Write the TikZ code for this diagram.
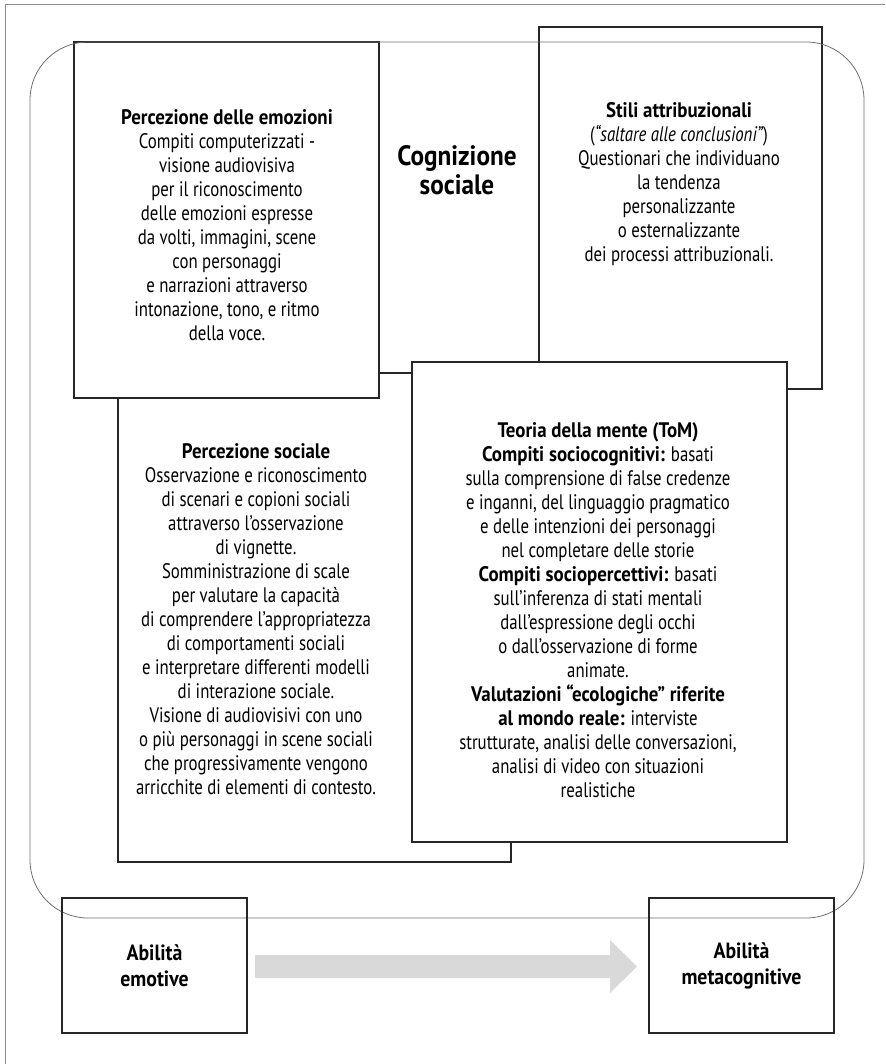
\documentclass[tikz,border=0pt]{standalone}
\usepackage{fontspec}
\setmainfont{PT Sans}[FakeStretch=0.8, BoldFeatures={FakeStretch=0.9}]
\usetikzlibrary{calc}
\definecolor{boxline}{HTML}{262626}
\definecolor{roundline}{HTML}{6E6E6E}
\definecolor{frameline}{HTML}{8C8C8C}
\definecolor{arrowfill}{HTML}{D9D9D9}
\tikzset{
  box/.style={draw=boxline, line width=1.3pt, inner sep=0pt, outer sep=0pt},
  txt/.style={font=\fontsize{21}{24}\selectfont, align=center, inner sep=0pt},
  abtxt/.style={font=\fontsize{22}{26}\selectfont\bfseries, align=center, inner sep=0pt},
  titletxt/.style={font=\fontsize{28}{29}\selectfont\bfseries, align=center, inner sep=0pt},
}
\begin{document}
\begin{tikzpicture}[x=1pt, y=-1pt]
\useasboundingbox (0,0) rectangle (885,1064);
% outer frame (only top and left edges visible)
\coordinate (fTR) at (885,4);
\coordinate (fTL) at (5,4);
\coordinate (fBL) at (5,1064);
\draw[frameline, line width=0.9pt] (fTR) -- (fTL) -- (fBL);
% boxes
\node[box, minimum width=283, minimum height=362] (stili) at (680.5,208) {};
\node[box, fill=white, minimum width=393, minimum height=489] (psoc) at (314.5,617.5) {};
\node[box, fill=white, minimum width=305, minimum height=356] (pemo) at (226.5,220) {};
\node[box, fill=white, minimum width=375, minimum height=480] (tom) at (599.5,602) {};
% rounded frame
\node[draw=roundline, line width=0.8pt, rounded corners=58pt, minimum width=834, minimum height=876, inner sep=0pt] (cogn) at (447,480) {};
% bottom boxes
\node[box, minimum width=185, minimum height=135] (abemo) at (154.5,965.5) {};
\node[box, minimum width=185, minimum height=135] (abmeta) at (741.5,965.5) {};
% arrow
\coordinate (arS) at (255,966.5);
\coordinate (arT) at (637,966.5);
\fill[arrowfill] ($(arS)+(0,-11.5)$) -- ($(arT)+(-27,-11.5)$) -- ($(arT)+(-27,-26.5)$) -- (arT)
  -- ($(arT)+(-27,26.5)$) -- ($(arT)+(-27,11.5)$) -- ($(arS)+(0,11.5)$) -- cycle;
% texts
\node[titletxt] (ttl) at (457,170) {Cognizione\\sociale};
\node[txt] (tpemo) at (227,225.5) {\textbf{Percezione delle emozioni}\\Compiti computerizzati -\\visione audiovisiva\\per il riconoscimento\\delle emozioni espresse\\da volti, immagini, scene\\con personaggi\\e narrazioni attraverso\\intonazione, tono, e ritmo\\della voce.};
\node[txt] (tstili) at (679,184) {\textbf{Stili attribuzionali}\\(\textit{“saltare alle conclusioni”})\\Questionari che individuano\\la tendenza\\personalizzante\\o esternalizzante\\dei processi attribuzionali.};
\node[txt] (tpsoc) at (256,619) {\textbf{Percezione sociale}\\Osservazione e riconoscimento\\di scenari e copioni sociali\\attraverso l’osservazione\\di vignette.\\Somministrazione di scale\\per valutare la capacità\\di comprendere l’appropriatezza\\di comportamenti sociali\\e interpretare differenti modelli\\di interazione sociale.\\Visione di audiovisivi con uno\\o più personaggi in scene sociali\\che progressivamente vengono\\arricchite di elementi di contesto.};
\node[txt] (ttom) at (598,610) {\textbf{Teoria della mente (ToM)}\\\textbf{Compiti sociocognitivi:} basati\\sulla comprensione di false credenze\\e inganni, del linguaggio pragmatico\\e delle intenzioni dei personaggi\\nel completare delle storie\\\textbf{Compiti sociopercettivi:} basati\\sull’inferenza di stati mentali\\dall’espressione degli occhi\\o dall’osservazione di forme\\animate.\\\textbf{Valutazioni “ecologiche” riferite}\\\textbf{al mondo reale:} interviste\\strutturate, analisi delle conversazioni,\\analisi di video con situazioni\\realistiche};
\node[abtxt] (tabemo) at (abemo) {Abilità\\emotive};
\node[abtxt] (tabmeta) at (abmeta) {Abilità\\metacognitive};
\end{tikzpicture}
\end{document}
